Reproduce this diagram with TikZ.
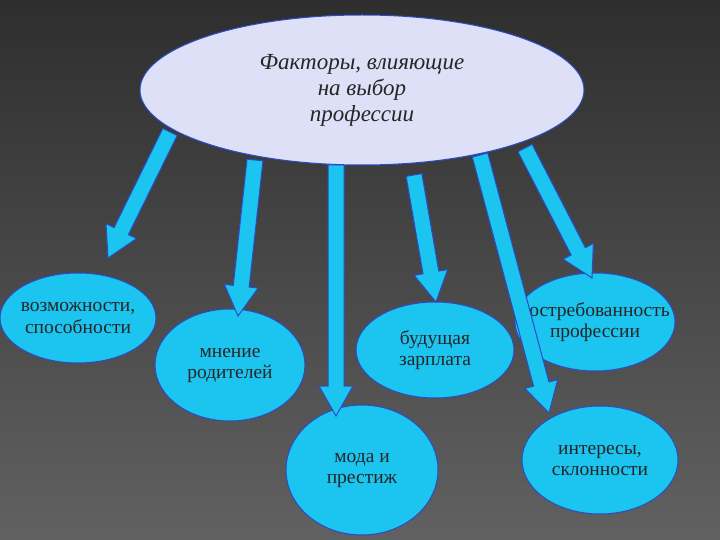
\documentclass[tikz,border=0pt]{standalone}
\usepackage{fontspec}
\setmainfont{Liberation Serif}
\usetikzlibrary{calc}
\definecolor{cy}{HTML}{1CC4F0}
\definecolor{bl}{HTML}{2A4CC8}
\definecolor{lav}{HTML}{DDE0F6}
\tikzset{
 leaf/.style={ellipse,fill=cy,draw=bl,line width=1pt,align=center,font=\fontsize{19.5}{21}\selectfont,inner sep=0pt,text=black!85},
 blk/.style={fill=cy,draw=bl,line width=1pt}
}
\newcommand\blkarrow[2]{\path[blk] let \p1=(#1),\p2=(#2),\n1={atan2(\y2-\y1,\x2-\x1)} in
 ($(\p1)+(\n1+90:8pt)$) -- ($(\p2)+(\n1+180:30pt)+(\n1+90:8pt)$) -- ($(\p2)+(\n1+180:30pt)+(\n1+90:17pt)$) -- (\p2)
 -- ($(\p2)+(\n1+180:30pt)+(\n1-90:17pt)$) -- ($(\p2)+(\n1+180:30pt)+(\n1-90:8pt)$) -- ($(\p1)+(\n1-90:8pt)$) -- cycle;}
\usetikzlibrary{shapes.geometric}
\begin{document}
\begin{tikzpicture}[x=1pt,y=-1pt]
\shade[shading angle=135,top color=black!82,middle color=black!45,bottom color=black!62] (0,0) rectangle (720,540);
\useasboundingbox (0,0) rectangle (720,540);
\node[leaf,inner sep=-14pt,minimum width=156,minimum height=90] (a) at (78,318) {возможности,\\способности};
\node[leaf,minimum width=150,minimum height=112] (b) at (230,365) {мнение\\родителей};
\node[leaf,minimum width=158,minimum height=96] (c) at (435,350) {будущая\\зарплата};
\node[leaf,minimum width=152,minimum height=130] (d) at (362,470) {мода и\\престиж};
\node[leaf,inner sep=-24pt,minimum width=160,minimum height=98] (e) at (595,322) {востребованность\\профессии};
\node[leaf,minimum width=156,minimum height=108] (f) at (600,460) {интересы,\\склонности};
\coordinate (s1) at (170,132); \coordinate (t1) at (108,258);
\coordinate (s2) at (255,160); \coordinate (t2) at (238,316);
\coordinate (s3) at (336,165); \coordinate (t3) at (336,416);
\coordinate (s4) at (414,175); \coordinate (t4) at (436,302);
\coordinate (s5) at (480,155); \coordinate (t5) at (549,413);
\coordinate (s6) at (525,148); \coordinate (t6) at (592,278);
\blkarrow{s1}{t1}\blkarrow{s2}{t2}\blkarrow{s3}{t3}
\blkarrow{s4}{t4}\blkarrow{s5}{t5}\blkarrow{s6}{t6}
\node[ellipse,fill=lav,draw=bl,line width=1pt,minimum width=444,minimum height=150,align=center,text=black!85,font=\itshape\fontsize{23}{26}\selectfont] (top) at (362,90) {Факторы, влияющие\\на выбор\\профессии};
\end{tikzpicture}
\end{document}
